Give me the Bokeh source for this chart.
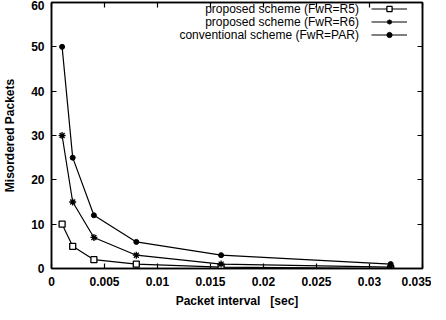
from bokeh.plotting import figure
from bokeh.models import (Range1d, FixedTicker, Legend, LegendItem,
                          Label, ColumnDataSource, LinearAxis)
from bokeh.embed import file_html
from bokeh.resources import INLINE

# ---- data ----
interval = [0.001, 0.002, 0.004, 0.008, 0.016, 0.032]
r5 = [10, 5, 2, 1, 0.3, 0.0]
r6 = [30, 15, 7, 3, 1.0, 0.3]
par = [50, 25, 12, 6, 3.0, 1.0]
series_names = ["proposed scheme (FwR=R5)",
                "proposed scheme (FwR=R6)",
                "conventional scheme (FwR=PAR)"]
x_ticks = [0, 0.005, 0.01, 0.015, 0.02, 0.025, 0.03, 0.035]
y_ticks = [0, 10, 20, 30, 40, 50, 60]
x_label = "Packet interval \u00a0 [sec]"
y_label = "Misordered Packets"

FONT = "Liberation Sans"

p = figure(output_backend="svg", toolbar_location=None,
           frame_width=371, frame_height=266,
           min_border_left=49, min_border_right=9,
           min_border_top=2, min_border_bottom=36,
           x_range=Range1d(0, 0.035), y_range=Range1d(0, 60),
           background_fill_color="white", border_fill_color="white")
p.grid.visible = False
p.outline_line_color = "black"
p.outline_line_width = 1.5

def style_axis(ax, labels=True):
    ax.axis_line_color = "black"
    ax.axis_line_width = 1.5
    ax.major_tick_in = 5
    ax.major_tick_out = 0
    ax.minor_tick_in = 0
    ax.minor_tick_out = 0
    ax.major_tick_line_color = "black"
    ax.major_tick_line_width = 1.2
    ax.major_label_text_font = FONT
    ax.major_label_text_font_style = "bold"
    if labels:
        ax.major_label_text_font_size = "12px"
        ax.major_label_text_color = "black"
    else:
        ax.major_label_text_font_size = "0px"
        ax.major_label_text_color = None
        ax.major_label_standoff = 0
    ax.axis_label_text_font = FONT
    ax.axis_label_text_font_style = "bold"
    ax.axis_label_text_font_size = "12px"
    ax.axis_label_text_color = "black"

xax = p.xaxis[0]
yax = p.yaxis[0]
xax.ticker = FixedTicker(ticks=x_ticks)
yax.ticker = FixedTicker(ticks=y_ticks)
style_axis(xax)
style_axis(yax)
xax.axis_label = x_label
yax.axis_label = y_label
xax.major_label_standoff = 8
xax.axis_label_standoff = 5
yax.major_label_standoff = 7
yax.axis_label_standoff = 11

top = LinearAxis(ticker=FixedTicker(ticks=x_ticks))
right = LinearAxis(ticker=FixedTicker(ticks=y_ticks))
style_axis(top, False)
style_axis(right, False)
p.add_layout(top, "above")
p.add_layout(right, "right")

src = ColumnDataSource(dict(x=interval, r5=r5, r6=r6, par=par))

l1 = p.line("x", "r5", source=src, line_color="black", line_width=1.2)
m1 = p.scatter("x", "r5", source=src, marker="square", size=6,
               line_color="black", fill_color="white", line_width=1.3)
l2 = p.line("x", "r6", source=src, line_color="black", line_width=1.2)
m2 = p.scatter("x", "r6", source=src, marker="asterisk", size=7,
               line_color="black", line_width=1.3)
l3 = p.line("x", "par", source=src, line_color="black", line_width=1.2)
m3 = p.scatter("x", "par", source=src, marker="circle", size=5,
               line_color="black", fill_color="black")

legend = Legend(items=[LegendItem(label=" ", renderers=[l1, m1]),
                       LegendItem(label=" ", renderers=[l2, m2]),
                       LegendItem(label=" ", renderers=[l3, m3])],
                location=(320, 227), padding=0, spacing=0, margin=0,
                glyph_width=36, glyph_height=13, label_height=13,
                label_width=0, label_standoff=0,
                label_text_font_size="1px", label_text_color=None,
                border_line_alpha=0, background_fill_alpha=0)
p.add_layout(legend, "center")

row_y = [58.5, 55.65, 52.6]
for name, yy in zip(series_names, row_y):
    p.add_layout(Label(x=0.0290, y=yy, text=name, text_align="right",
                       text_baseline="middle", text_font=FONT,
                       text_font_size="12px", text_color="black"))

open("out.html", "w").write(file_html(p, INLINE))
